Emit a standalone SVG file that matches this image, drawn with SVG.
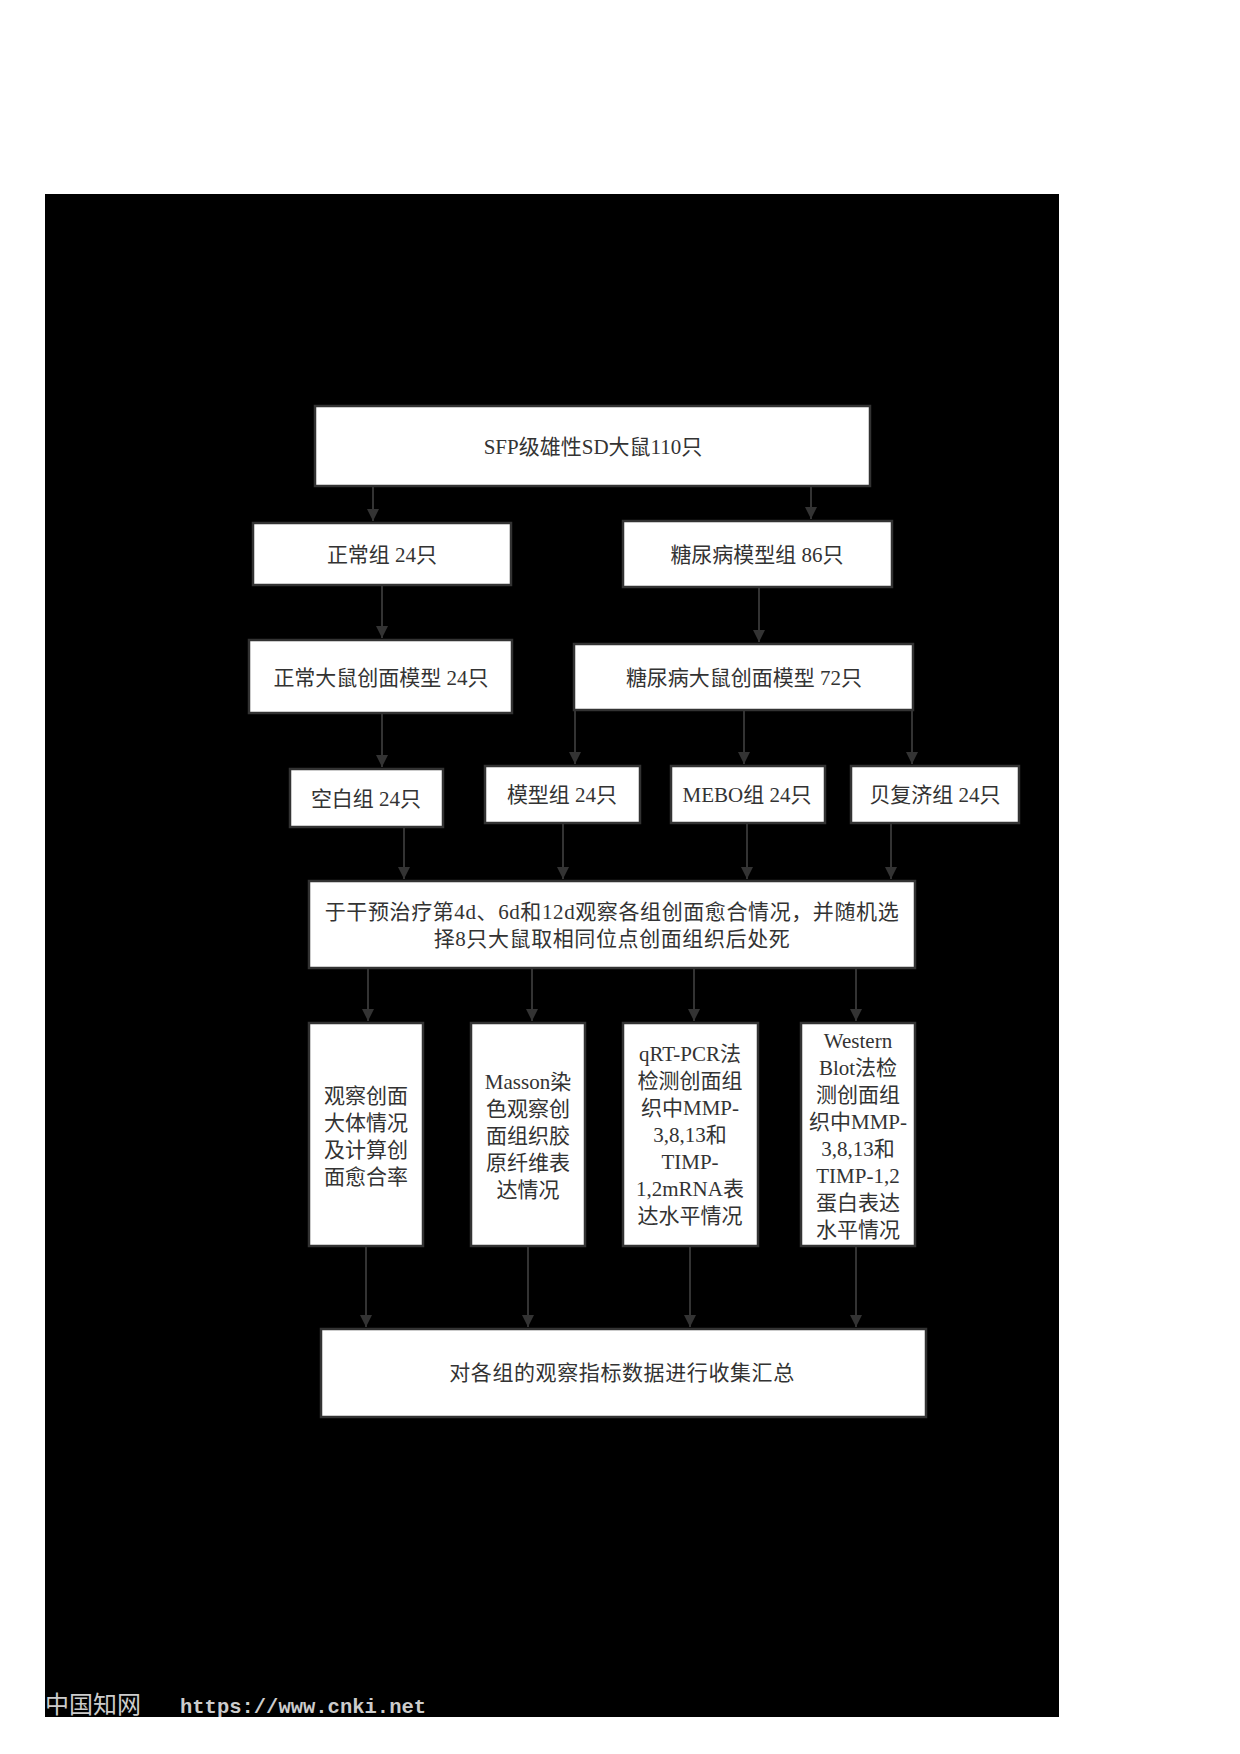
<svg xmlns="http://www.w3.org/2000/svg" width="1240" height="1754" viewBox="0 0 1240 1754">
<style>
.box{fill:#fff;stroke:#333;stroke-width:2.5}
.t{font-family:"Liberation Serif","Noto Sans CJK SC",serif;font-size:21px;fill:#333;text-anchor:middle}
.w{letter-spacing:0.6px}
.c{stroke:#333;stroke-width:2;fill:none}
.wm{fill:#ccc}
</style>
<defs>
<marker id="ah" markerUnits="userSpaceOnUse" markerWidth="12" markerHeight="14" refX="12" refY="6" orient="auto">
<path d="M0,0 L12,6 L0,12 Z" fill="#333"/>
</marker>
</defs>
<rect x="0" y="0" width="1240" height="1754" fill="#fff"/>
<rect x="45" y="194" width="1014" height="1523" fill="#000"/>

<g id="n1"><rect class="box" x="315" y="406" width="555" height="80"/><text class="t" x="593" y="454">SFP级雄性SD大鼠110只</text></g>
<g id="n2"><rect class="box" x="253" y="523" width="258" height="62"/><text class="t" x="382" y="562">正常组 24只</text></g>
<g id="n3"><rect class="box" x="623" y="521" width="269" height="66"/><text class="t" x="757" y="562">糖尿病模型组 86只</text></g>
<g id="n4"><rect class="box" x="249" y="640" width="263" height="73"/><text class="t" x="381" y="685">正常大鼠创面模型 24只</text></g>
<g id="n5"><rect class="box" x="574" y="644" width="339" height="66"/><text class="t" x="744" y="685">糖尿病大鼠创面模型 72只</text></g>
<g id="n6"><rect class="box" x="290" y="769" width="153" height="58"/><text class="t" x="366" y="806">空白组 24只</text></g>
<g id="n7"><rect class="box" x="485" y="766" width="155" height="57"/><text class="t" x="562" y="802">模型组 24只</text></g>
<g id="n8"><rect class="box" x="671" y="766" width="154" height="57"/><text class="t" x="747" y="802">MEBO组 24只</text></g>
<g id="n9"><rect class="box" x="851" y="766" width="168" height="57"/><text class="t" x="935" y="802">贝复济组 24只</text></g>
<g id="n10"><rect class="box" x="309" y="881" width="606" height="87"/>
<text class="t w" x="612" y="919">于干预治疗第4d、6d和12d观察各组创面愈合情况，并随机选</text>
<text class="t w" x="612" y="946">择8只大鼠取相同位点创面组织后处死</text></g>
<g id="n11"><rect class="box" x="309" y="1023" width="114" height="223"/>
<text class="t" x="366" y="1103">观察创面</text><text class="t" x="366" y="1130">大体情况</text><text class="t" x="366" y="1157">及计算创</text><text class="t" x="366" y="1184">面愈合率</text></g>
<g id="n12"><rect class="box" x="471" y="1023" width="114" height="223"/>
<text class="t" x="528" y="1089">Masson染</text><text class="t" x="528" y="1116">色观察创</text><text class="t" x="528" y="1143">面组织胶</text><text class="t" x="528" y="1170">原纤维表</text><text class="t" x="528" y="1197">达情况</text></g>
<g id="n13"><rect class="box" x="623" y="1023" width="135" height="223"/>
<text class="t" x="690" y="1061">qRT-PCR法</text><text class="t" x="690" y="1088">检测创面组</text><text class="t" x="690" y="1115">织中MMP-</text><text class="t" x="690" y="1142">3,8,13和</text><text class="t" x="690" y="1169">TIMP-</text><text class="t" x="690" y="1196">1,2mRNA表</text><text class="t" x="690" y="1223">达水平情况</text></g>
<g id="n14"><rect class="box" x="801" y="1023" width="114" height="223"/>
<text class="t" x="858" y="1048">Western</text><text class="t" x="858" y="1075">Blot法检</text><text class="t" x="858" y="1102">测创面组</text><text class="t" x="858" y="1129">织中MMP-</text><text class="t" x="858" y="1156">3,8,13和</text><text class="t" x="858" y="1183">TIMP-1,2</text><text class="t" x="858" y="1210">蛋白表达</text><text class="t" x="858" y="1237">水平情况</text></g>
<g id="n15"><rect class="box" x="321" y="1329" width="605" height="88"/><text class="t w" x="622" y="1380">对各组的观察指标数据进行收集汇总</text></g>

<g id="connectors" class="c" marker-end="url(#ah)">
<line x1="373" y1="487" x2="373" y2="521"/>
<line x1="811" y1="487" x2="811" y2="519"/>
<line x1="382" y1="586" x2="382" y2="638"/>
<line x1="759" y1="588" x2="759" y2="642"/>
<line x1="382" y1="714" x2="382" y2="767"/>
<line x1="575" y1="711" x2="575" y2="764"/>
<line x1="744" y1="711" x2="744" y2="764"/>
<line x1="912" y1="711" x2="912" y2="764"/>
<line x1="404" y1="828" x2="404" y2="879"/>
<line x1="563" y1="824" x2="563" y2="879"/>
<line x1="747" y1="824" x2="747" y2="879"/>
<line x1="891" y1="824" x2="891" y2="879"/>
<line x1="368" y1="969" x2="368" y2="1021"/>
<line x1="532" y1="969" x2="532" y2="1021"/>
<line x1="694" y1="969" x2="694" y2="1021"/>
<line x1="856" y1="969" x2="856" y2="1021"/>
<line x1="366" y1="1247" x2="366" y2="1327"/>
<line x1="528" y1="1247" x2="528" y2="1327"/>
<line x1="690" y1="1247" x2="690" y2="1327"/>
<line x1="856" y1="1247" x2="856" y2="1327"/>
</g>

<text class="wm" x="45" y="1713" font-family="Noto Sans CJK SC, sans-serif" font-size="24">中国知网</text>
<text class="wm" x="180" y="1713" font-family="Liberation Mono, monospace" font-size="20.5" font-weight="bold">https://www.cnki.net</text>
</svg>
